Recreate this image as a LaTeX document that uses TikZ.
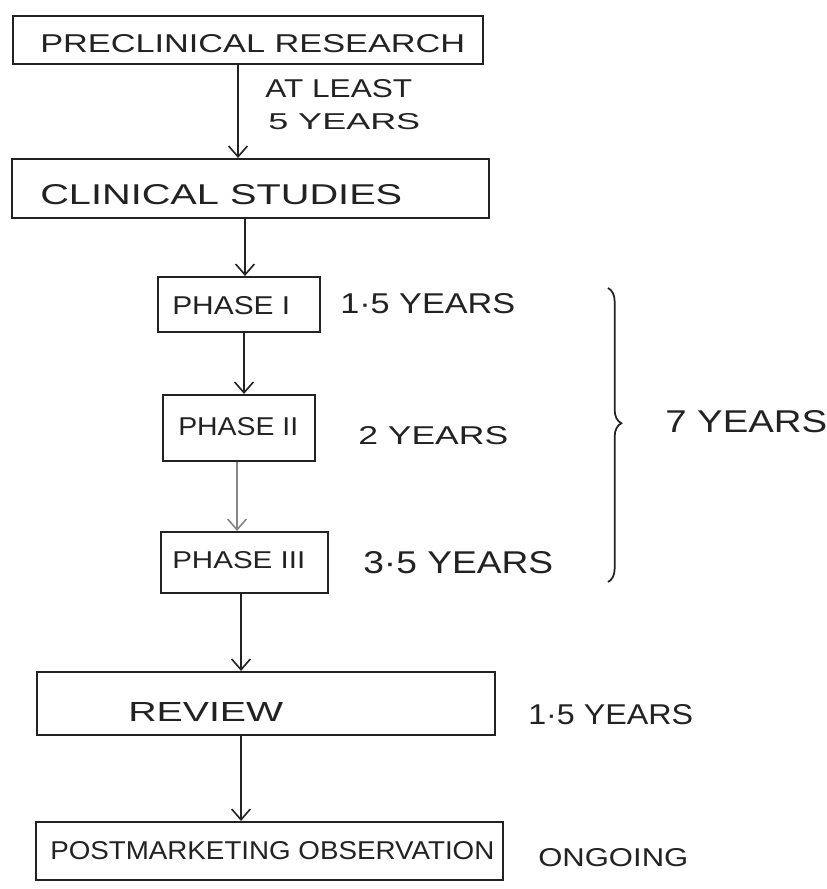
\documentclass[tikz,border=0pt]{standalone}
\usepackage{fontspec}
\setmainfont{Liberation Sans}
\usetikzlibrary{arrows.meta,decorations.pathreplacing}
\newlength\pxu
\pxu=0.75pt
\newcommand\hw[3]{\resizebox{#1\pxu}{#2\pxu}{#3}}
\definecolor{ink}{HTML}{222222}
\begin{document}
\begin{tikzpicture}[x=0.75pt,y=-0.75pt,
  box/.style={draw=ink,line width=1.6pt,inner sep=0pt},
  lbl/.style={inner sep=0pt,anchor=west,text=ink},
  arr/.style={draw=ink,line width=1.2pt,-{Straight Barb[length=8pt,width=14pt,line width=1.2pt]}},
  faintarr/.style={arr,draw=ink!55}]
\useasboundingbox[fill=white] (0,0) rectangle (827,889);
% boxes
\node[box,minimum width=470\pxu,minimum height=48\pxu] (pre) at (248,40) {};
\node[box,minimum width=477\pxu,minimum height=59\pxu] (clin) at (250.5,188.5) {};
\node[box,minimum width=162\pxu,minimum height=55\pxu] (p1) at (239,304.5) {};
\node[box,minimum width=152\pxu,minimum height=66\pxu] (p2) at (239,428) {};
\node[box,minimum width=167\pxu,minimum height=61\pxu] (p3) at (244.5,562.5) {};
\node[box,minimum width=458\pxu,minimum height=63\pxu] (rev) at (266,703.5) {};
\node[box,minimum width=467\pxu,minimum height=58\pxu] (post) at (269.5,851) {};
% texts
\node[lbl] (tpre) at (40,44) {\hw{425}{18}{PRECLINICAL RESEARCH}};
\node[lbl] (tal) at (265,89) {\hw{147}{18}{AT LEAST}};
\node[lbl] (t5y) at (268,122) {\hw{152}{16}{5 YEARS}};
\node[lbl] (tclin) at (40,195) {\hw{362}{20}{CLINICAL STUDIES}};
\node[lbl] (tp1) at (172,306) {\hw{118}{18}{PHASE I}};
\node[lbl] (d1) at (340,304) {\hw{175}{20}{1·5 YEARS}};
\node[lbl] (tp2) at (178,427) {\hw{120}{18}{PHASE II}};
\node[lbl] (d2) at (358,436) {\hw{150}{18}{2 YEARS}};
\node[lbl] (tp3) at (172,560) {\hw{133}{17}{PHASE III}};
\node[lbl] (d3) at (363,563) {\hw{190}{22}{3·5 YEARS}};
\node[lbl] (d7) at (665,422) {\hw{162}{22}{7 YEARS}};
\node[lbl] (trev) at (128,712) {\hw{155}{19}{REVIEW}};
\node[lbl] (drev) at (528,715) {\hw{165}{20}{1·5 YEARS}};
\node[lbl] (tpost) at (50,851) {\hw{444}{18}{POSTMARKETING OBSERVATION}};
\node[lbl] (dpost) at (538,858) {\hw{150}{18}{ONGOING}};
% arrow columns
\coordinate (x1) at (238,0);
\coordinate (x2) at (245,0);
\coordinate (x3) at (244,0);
\coordinate (x4) at (237,0);
\coordinate (x5) at (241,0);
\draw[arr] (pre.south -| x1) -- (clin.north -| x1);
\draw[arr] (clin.south -| x2) -- (p1.north -| x2);
\draw[arr] (p1.south -| x3) -- (p2.north -| x3);
\draw[faintarr] (p2.south -| x4) -- (p3.north -| x4);
\draw[arr] (p3.south -| x5) -- (rev.north -| x5);
\draw[arr] (rev.south -| x5) -- (post.north -| x5);
% brace
\coordinate (bt) at (608,288);
\coordinate (bb) at (608,582);
\draw[draw=ink,line width=1.3pt,decorate,decoration={brace,amplitude=10pt,aspect=0.46}] (bt) -- (bb);
\end{tikzpicture}
\end{document}
